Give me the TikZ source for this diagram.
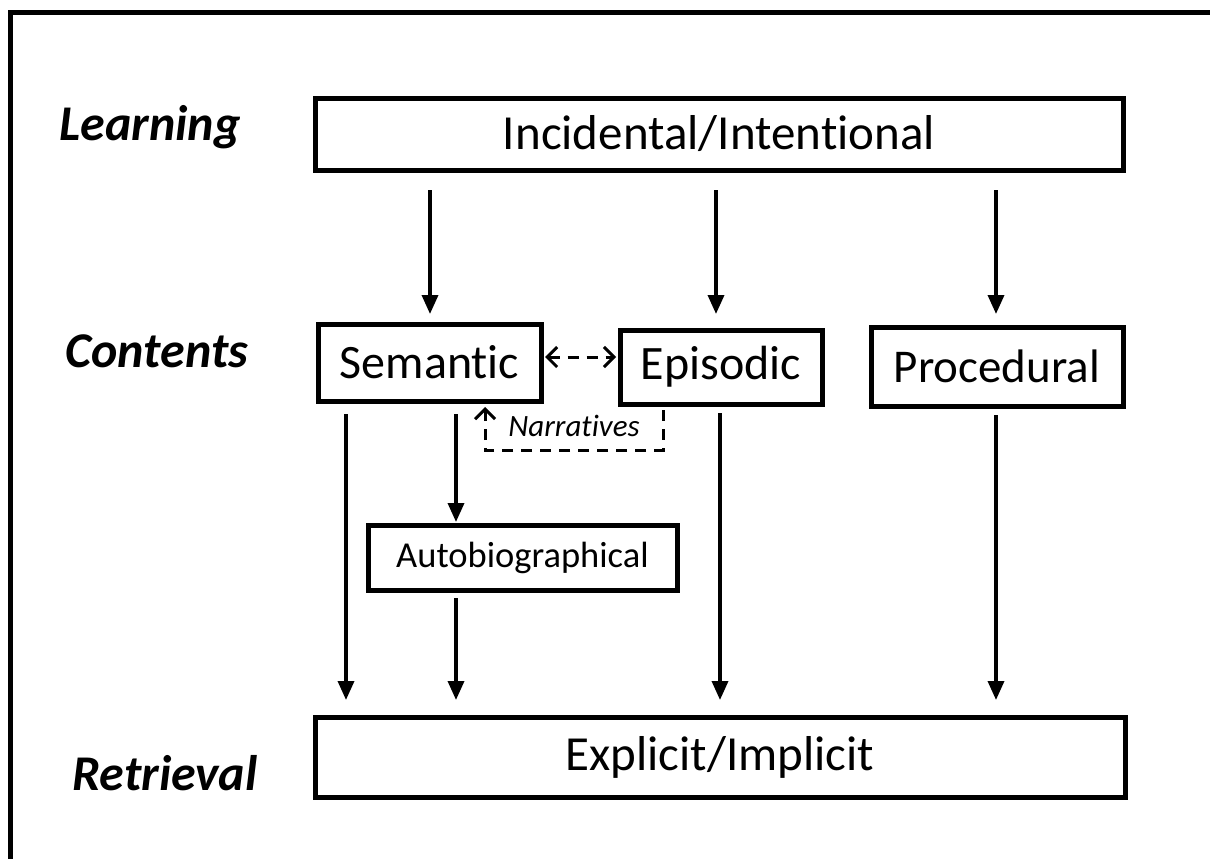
\documentclass[tikz,border=0pt]{standalone}
\usepackage{fontspec}
\setmainfont{Carlito}[Ligatures=NoCommon]
\usetikzlibrary{arrows.meta}
\tikzset{
  box/.style={draw, line width=5pt, inner sep=0pt, anchor=center},
  flow/.style={line width=3.5pt, -{Triangle[width=16pt,length=19pt]}},
  dflow/.style={line width=3pt, dash pattern=on 11pt off 8pt},
  openhead/.tip={Straight Barb[length=10pt,width=20pt,line width=3pt]},
  side/.style={font=\fontsize{50}{58}\selectfont\bfseries\itshape, anchor=center},
}
\begin{document}
\begin{tikzpicture}[x=1pt,y=-1pt]
\useasboundingbox (0,0) rectangle (1210,859);
% frame
\draw[line width=5pt] (10,859) -- (10,12.5) -- (1210,12.5);
% side labels
\node[side] (lL) at (150,127) {Learning};
\node[side] (lC) at (157,351) {Contents};
\node[side] (lR) at (165,773) {Retrieval};
% boxes
\node[box, minimum width=808pt, minimum height=72pt, font=\fontsize{49}{56}\selectfont] (learn) at (719,134) {Incidental/Intentional};
\node[box, minimum width=223pt, minimum height=77pt, font=\fontsize{48}{54}\selectfont] (sem) at (429.5,362.5) {Semantic};
\node[box, minimum width=202pt, minimum height=74pt, font=\fontsize{48}{54}\selectfont] (epi) at (721,367) {Episodic};
\node[box, minimum width=252pt, minimum height=79pt, font=\fontsize{47}{54}\selectfont] (proc) at (997,366.5) {Procedural};
\node[box, minimum width=309pt, minimum height=65pt, font=\fontsize{36.5}{42}\selectfont] (auto) at (522.5,558) {Autobiographical};
\node[box, minimum width=810pt, minimum height=80pt, font=\fontsize{49}{56}\selectfont] (ret) at (720,757.5) {Explicit/Implicit};
% coordinates for arrows
\coordinate (a1s) at (430,190); \coordinate (a1e) at (430,314);
\coordinate (a2s) at (716,190); \coordinate (a2e) at (716,314);
\coordinate (a3s) at (996,190); \coordinate (a3e) at (996,314);
\coordinate (b1s) at (346,414); \coordinate (b1e) at (346,700);
\coordinate (b2s) at (456,414); \coordinate (b2e) at (456,522);
\coordinate (b3s) at (456,598); \coordinate (b3e) at (456,700);
\coordinate (b4s) at (720,413); \coordinate (b4e) at (720,700);
\coordinate (b5s) at (996,415); \coordinate (b5e) at (996,700);
\draw[flow] (a1s) -- (a1e);
\draw[flow] (a2s) -- (a2e);
\draw[flow] (a3s) -- (a3e);
\draw[flow] (b1s) -- (b1e);
\draw[flow] (b2s) -- (b2e);
\draw[flow] (b3s) -- (b3e);
\draw[flow] (b4s) -- (b4e);
\draw[flow] (b5s) -- (b5e);
% dashed double arrow
\coordinate (d1) at (545,357); \coordinate (d2) at (616,357);
\draw[dflow, openhead-openhead] (d1) -- (d2);
% narratives
\coordinate (n1) at (663,410);
\coordinate (n2) at (663,450);
\coordinate (n3) at (485,450);
\coordinate (n4) at (485,407);
\draw[dflow, -openhead] (n1) -- (n2) -- (n3) -- (n4);
\node[font=\fontsize{31}{36}\selectfont\itshape, anchor=center] (narr) at (574,426) {Narratives};
\end{tikzpicture}
\end{document}
